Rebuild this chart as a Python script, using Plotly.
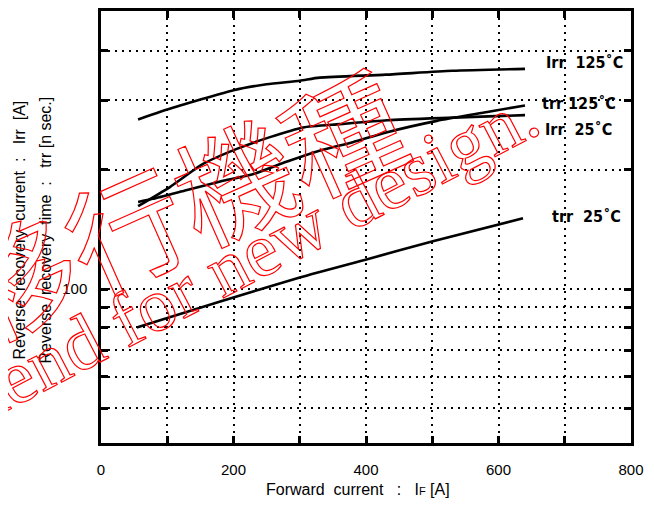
import math
import plotly.graph_objects as go

# ---------------- data ----------------
irr125_x = [56, 100, 150, 200, 250, 300, 330, 430, 530, 640]
irr125_y = [268, 284, 301, 318, 329, 336, 342, 348, 356, 360]

irr25_x = [56, 104, 154, 205, 255, 305, 361, 432, 531, 640]
irr25_y = [162, 181, 207, 226, 242, 256, 261, 267, 271, 275]

trr125_x = [56, 78, 130, 180, 229, 281, 331, 380, 432, 507, 583, 640]
trr125_y = [166, 169, 178, 187, 195, 210, 224, 235, 249, 266, 280, 291]

trr25_x = [54, 180, 300, 402, 501, 637]
trr25_y = [80, 93, 107, 119, 132, 151]

x_tickvals = [0, 100, 200, 300, 400, 500, 600, 700, 800]
x_ticktext = ["0", "", "200", "", "400", "", "600", "", "800"]
y_tickvals = [50, 60, 70, 80, 90, 100, 200, 300, 400]
y_ticktext = ["", "", "", "", "", "100", "", "", ""]

series_labels = ["Irr\u00a0\u00a0125\u02daC", "trr\u00a0125\u02daC", "Irr\u00a0\u00a025\u02daC", "trr\u00a0\u00a025\u02daC"]

# ---------------- layout geometry ----------------
# the page body adds an 8px margin, so the figure is drawn 8px in from the window corner
OFF = 8
W, H = 654 - OFF, 508 - OFF
L, R, T, B = 101 - OFF, 23, 8 - OFF, 65
PW, PH = W - L - R, H - T - B


def px2paper(px, py):
    # px, py: pixel positions in the 654x508 window
    return (px - OFF - L) / PW, (H - B - (py - OFF)) / PH


fig = go.Figure()
for xs, ys in [(irr125_x, irr125_y), (irr25_x, irr25_y), (trr125_x, trr125_y), (trr25_x, trr25_y)]:
    fig.add_trace(go.Scatter(x=xs, y=ys, mode="lines",
                             line=dict(color="black", width=2.6, shape="spline", smoothing=0.6),
                             showlegend=False, hoverinfo="skip"))

annotations = []
# curve labels at right
label_pos = [(584, 60), (579, 101), (578, 127), (586, 215)]
for text, (px, py) in zip(series_labels, label_pos):
    ax, ay = px2paper(px, py)
    annotations.append(dict(x=ax, y=ay, xref="paper", yref="paper", text=text, showarrow=False,
                            xanchor="center", yanchor="middle",
                            font=dict(family="DejaVu Sans Condensed, Liberation Sans", size=16,
                                      color="black", weight="bold")))

# y-axis titles (two rotated lines)
sp2 = "\u00a0\u00a0"
for text, px in [(f"Reverse{sp2}recovery{sp2}current{sp2}:{sp2}\u00a0Irr{sp2}[A]", 19),
                 (f"Reverse{sp2}recovery{sp2}time{sp2}:{sp2}\u00a0trr [n sec.]", 45)]:
    ax, ay = px2paper(px, 229)
    annotations.append(dict(x=ax, y=ay, xref="paper", yref="paper", text=text, showarrow=False,
                            textangle=-90, xanchor="center", yanchor="middle",
                            font=dict(family="Liberation Sans", size=16, color="black")))

# x-axis title
ax, ay = px2paper(358, 490)
annotations.append(dict(x=ax, y=ay, xref="paper", yref="paper",
                        text="Forward\u00a0\u00a0current\u00a0\u00a0\u00a0:\u00a0\u00a0\u00a0I<span style='font-size:11px'>F</span> [A]",
                        showarrow=False, xanchor="center", yanchor="middle",
                        font=dict(family="Liberation Sans", size=16, color="black")))

# watermark (red outlined text)
ax, ay = px2paper(178, 200)
annotations.append(dict(x=ax, y=ay, xref="paper", yref="paper",
                        text="<span style='fill:none;stroke:#ff0000;stroke-width:1.2'>移行機種</span>",
                        showarrow=False, textangle=-24, xanchor="center", yanchor="middle",
                        font=dict(family="Noto Sans CJK JP", size=118, color="red")))
ax, ay = px2paper(96, 334)
annotations.append(dict(x=ax, y=ay, xref="paper", yref="paper",
                        text="<span style='fill:none;stroke:#ff0000;stroke-width:1.2'>Not recommend for new design.</span>",
                        showarrow=False, textangle=-27.5, xanchor="center", yanchor="middle",
                        font=dict(family="Liberation Serif", size=76, color="red")))

grid = dict(showgrid=True, gridcolor="black", gridwidth=1.6, griddash="2px,5px")

fig.update_layout(
    width=W, height=H,
    margin=dict(l=L, r=R, t=T, b=B, pad=0),
    paper_bgcolor="white", plot_bgcolor="white",
    font=dict(family="Liberation Sans", color="black", size=15),
    annotations=annotations,
    xaxis=dict(range=[0, 800], tickvals=x_tickvals, ticktext=x_ticktext,
               ticks="inside", ticklen=7, tickwidth=2.5, tickcolor="black",
               showline=True, linewidth=2.5, linecolor="black", mirror="ticks",
               zeroline=False, tickfont=dict(size=15), ticklabelstandoff=11, **grid),
    yaxis=dict(type="log", range=[math.log10(40.84), math.log10(504.0)],
               tickvals=y_tickvals, ticktext=y_ticktext,
               ticks="inside", ticklen=7, tickwidth=2.5, tickcolor="black",
               showline=True, linewidth=2.5, linecolor="black", mirror="ticks",
               zeroline=False, tickfont=dict(size=15), ticklabelstandoff=8, **grid),
)

fig.write_html("out.html")
